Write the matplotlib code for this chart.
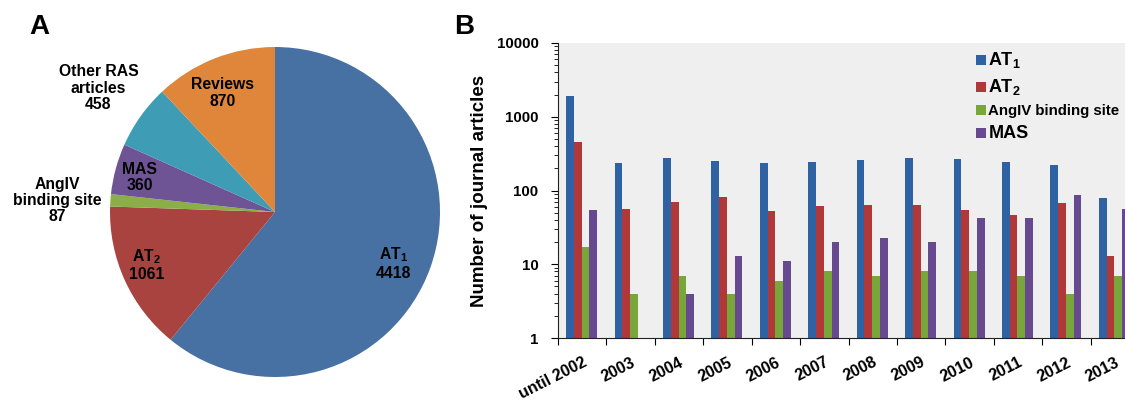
import numpy as np
import matplotlib
matplotlib.use("Agg")
import matplotlib.pyplot as plt
from matplotlib.ticker import LogLocator, NullFormatter, FixedLocator

plt.rcParams['font.family'] = ['Liberation Sans', 'DejaVu Sans']
plt.rcParams['font.weight'] = 'bold'
plt.rcParams['mathtext.fontset'] = 'custom'
plt.rcParams['mathtext.rm'] = 'Liberation Sans:bold'
plt.rcParams['mathtext.it'] = 'Liberation Sans:bold'
plt.rcParams['mathtext.bf'] = 'Liberation Sans:bold'

# pie data
pie_names = ['AT$_1$', 'AT$_2$', 'AngIV\nbinding site', 'MAS',
             'Other RAS\narticles', 'Reviews']
pie_values = [4418, 1061, 87, 360, 458, 870]
pie_colors = ['#4770a3', '#a8433f', '#8aae48', '#6f5495', '#3e9cb4', '#df863b']

# bar data
years = ['until 2002', '2003', '2004', '2005', '2006', '2007', '2008',
         '2009', '2010', '2011', '2012', '2013']
at1 = [1900, 235, 280, 253, 235, 240, 262, 280, 268, 247, 225, 79]
at2 = [460, 57, 70, 82, 53, 61, 64, 63, 54, 47, 68, 13]
angiv = [17, 4, 7, 4, 6, 8, 7, 8, 8, 7, 4, 7]
mas = [55, 0, 4, 13, 11, 20, 23, 20, 42, 42, 86, 56]
series_names = ['AT$_1$', 'AT$_2$', 'AngIV binding site', 'MAS']
bar_colors = ['#2f62a3', '#b03838', '#79a63a', '#66498e']

fig = plt.figure(figsize=(11.25, 4.03), dpi=100)

# ---- A: pie
ax1 = fig.add_axes([110 / 1125, 26 / 403, 330 / 1125, 330 / 403])
ax1.pie(pie_values, colors=pie_colors, startangle=90, counterclock=False,
        radius=1, wedgeprops=dict(linewidth=0))
ax1.set_xlim(-1, 1)
ax1.set_ylim(-1, 1)
ax1.set_aspect('equal')
label_pos = [(0.72, -0.31), (-0.78, -0.32), (-1.32, 0.07),
             (-0.82, 0.21), (-1.07, 0.75), (-0.32, 0.72)]
for name, val, (lx, ly) in zip(pie_names, pie_values, label_pos):
    ax1.text(lx, ly, name + '\n' + str(val), ha='center', va='center',
             fontsize=11.3, fontweight='bold', linespacing=1.12)

fig.text(29 / 1125, 1 - 27 / 403, 'A', fontsize=20, fontweight='bold', va='center')
fig.text(454 / 1125, 1 - 27 / 403, 'B', fontsize=20, fontweight='bold', va='center')

# ---- B: bars
ax2 = fig.add_axes([558 / 1125, 65 / 403, 581 / 1125, 295 / 403])
ax2.set_facecolor('#efefef')
x = np.arange(len(years))
bw = 0.16
for k, (vals, c, nm) in enumerate(zip([at1, at2, angiv, mas], bar_colors, series_names)):
    v = np.array(vals, dtype=float)
    v[v <= 0] = np.nan
    ax2.bar(x + 0.17 + k * bw, v, width=bw, align='edge', color=c,
            edgecolor='none', label=nm)

ax2.set_yscale('log')
ax2.set_ylim(1, 10000)
ax2.set_xlim(0, len(years))
ax2.yaxis.set_minor_locator(LogLocator(base=10, subs=np.arange(2, 10), numticks=10))
ax2.yaxis.set_minor_formatter(NullFormatter())
ax2.set_yticks([1, 10, 100, 1000, 10000])
ax2.set_yticklabels(['1', '10', '100', '1000', '10000'])
ax2.tick_params(axis='y', which='major', length=5, labelsize=10.8, pad=9)
ax2.tick_params(axis='y', which='minor', length=3)

ax2.xaxis.set_major_locator(FixedLocator(np.arange(0, len(years) + 1)))
ax2.xaxis.set_minor_locator(FixedLocator(x + 0.5))
ax2.set_xticklabels([''] * (len(years) + 1))
ax2.set_xticklabels(years, minor=True, rotation=27, ha='right',
                    rotation_mode='anchor', fontsize=11.5, fontweight='bold')
ax2.tick_params(axis='x', which='major', length=5)
ax2.tick_params(axis='x', which='minor', length=0, pad=12)

for sp in ['top', 'right']:
    ax2.spines[sp].set_visible(False)
ax2.spines['left'].set_color('#222222')
ax2.spines['bottom'].set_color('#222222')
ax2.set_ylabel('Number of journal articles', fontsize=13.5, fontweight='bold', labelpad=6)

leg = ax2.legend(loc='upper left', bbox_to_anchor=(976 / 1125, 1 - 50 / 403),
                 bbox_transform=fig.transFigure, frameon=False,
                 handlelength=0.7, handleheight=0.7, handletextpad=0.2,
                 labelspacing=0.5, borderaxespad=0, borderpad=0)
sizes = [13, 13, 10.8, 13]
for t, s in zip(leg.get_texts(), sizes):
    t.set_fontsize(s)
    t.set_fontweight('bold')

fig.savefig('out.png', dpi=100)
